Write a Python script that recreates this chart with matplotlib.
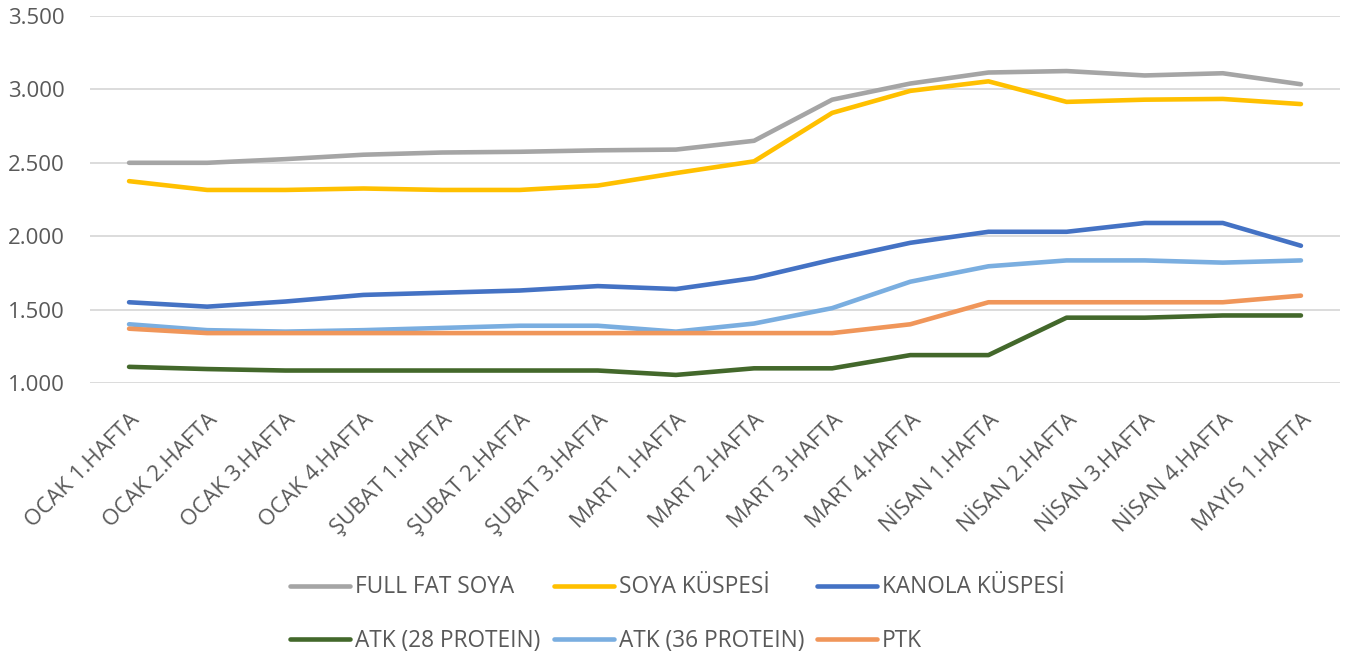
import matplotlib
matplotlib.use("Agg")
import matplotlib.pyplot as plt
from matplotlib.ticker import FuncFormatter

weeks = [
    "OCAK 1.HAFTA", "OCAK 2.HAFTA", "OCAK 3.HAFTA", "OCAK 4.HAFTA",
    "ŞUBAT 1.HAFTA", "ŞUBAT 2.HAFTA", "ŞUBAT 3.HAFTA", "MART 1.HAFTA",
    "MART 2.HAFTA", "MART 3.HAFTA", "MART 4.HAFTA", "NİSAN 1.HAFTA",
    "NİSAN 2.HAFTA", "NİSAN 3.HAFTA", "NİSAN 4.HAFTA", "MAYIS 1.HAFTA",
]

full_fat_soya = [2500, 2500, 2525, 2555, 2570, 2575, 2585, 2590,
                 2650, 2930, 3040, 3115, 3125, 3095, 3110, 3035]
soya_kuspesi = [2375, 2315, 2315, 2325, 2315, 2315, 2345, 2430,
                2510, 2840, 2990, 3055, 2915, 2930, 2935, 2900]
kanola_kuspesi = [1550, 1520, 1555, 1600, 1615, 1630, 1660, 1640,
                  1715, 1840, 1955, 2030, 2030, 2090, 2090, 1935]
atk_28 = [1110, 1095, 1085, 1085, 1085, 1085, 1085, 1055,
          1100, 1100, 1190, 1190, 1445, 1445, 1460, 1460]
atk_36 = [1400, 1360, 1350, 1360, 1375, 1390, 1390, 1350,
          1405, 1510, 1690, 1795, 1835, 1835, 1820, 1835]
ptk = [1370, 1340, 1340, 1340, 1340, 1340, 1340, 1340,
       1340, 1340, 1400, 1550, 1550, 1550, 1550, 1595]

series = [
    ("FULL FAT SOYA", full_fat_soya, "#A5A5A5"),
    ("SOYA KÜSPESİ", soya_kuspesi, "#FFC000"),
    ("KANOLA KÜSPESİ", kanola_kuspesi, "#4472C4"),
    ("ATK (28 PROTEIN)", atk_28, "#43682B"),
    ("ATK (36 PROTEIN)", atk_36, "#7AAEE0"),
    ("PTK", ptk, "#F0965A"),
]

TEXT = "#595959"
plt.rcParams["font.family"] = ["Open Sans", "DejaVu Sans"]

fig = plt.figure(figsize=(13.55, 6.59), dpi=100)
ax = fig.add_axes([90 / 1355, 1 - 383 / 659, 1250 / 1355, 367 / 659])

x = list(range(len(weeks)))
lines = []
for name, vals, color in series:
    ln, = ax.plot(x, vals, color=color, lw=3.3, label=name,
                  solid_joinstyle="round", solid_capstyle="round")
    lines.append(ln)

ax.set_xlim(-0.5, len(weeks) - 0.5)
ax.set_ylim(1000, 3500)
ax.set_yticks([1000, 1500, 2000, 2500, 3000, 3500])
ax.yaxis.set_major_formatter(FuncFormatter(lambda v, p: f"{int(v):,}".replace(",", ".")))
ax.set_xticks(x)
ax.set_xticklabels(weeks, rotation=45, ha="right", va="top",
                   rotation_mode="anchor")
ax.grid(axis="y", color="#D9D9D9", lw=1.3)
ax.set_axisbelow(True)
for s in ax.spines.values():
    s.set_visible(False)
ax.tick_params(axis="both", length=0, colors=TEXT, labelsize=16)
ax.tick_params(axis="y", pad=18)
ax.tick_params(axis="x", pad=19)

# legend is filled column by column, so reorder to read row by row
order = [0, 3, 1, 4, 2, 5]
fig.legend([lines[i] for i in order], [series[i][0] for i in order],
           loc="center", bbox_to_anchor=(0.5, 0.068), ncol=3,
           frameon=False, fontsize=16.3, labelcolor=TEXT,
           handlelength=2.65, handletextpad=0.22, columnspacing=0.58,
           labelspacing=1.3)

fig.savefig("out.png", dpi=100)
